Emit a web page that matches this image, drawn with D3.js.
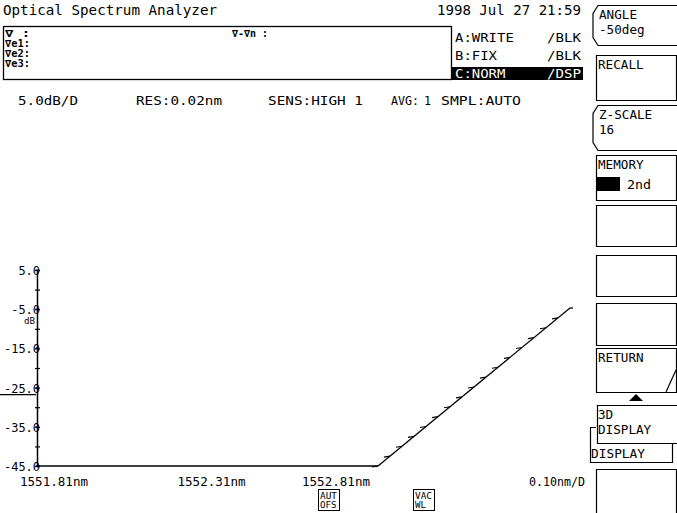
<!DOCTYPE html>
<html>
<head>
<meta charset="utf-8">
<script src="https://cdn.jsdelivr.net/npm/d3@7"></script>
<style>
	body { margin: 0; background: #fff; }
	svg { display: block; }
	text { font-family: "DejaVu Sans Mono", "Liberation Mono", monospace; fill: #000; }
</style>
</head>
<body>
<div id="osa"></div>
<script>
// values
var levelTicks = [5, -5, -15, -25, -35, -45];
var levelDomain = [-45, 5];
var waveValues = [1551.81, 1552.31, 1552.81];
var waveLabels = ["1551.81nm", "1552.31nm", "1552.81nm"];
var zScale = 16;
var markerRows = ["\u2207  :", "\u2207e1:", "\u2207e2:", "\u2207e3:"];
var traceModes = ["A:WRITE", "B:FIX", "C:NORM"];
var traceStates = ["/BLK", "/BLK", "/DSP"];
var conditions = ["5.0dB/D", "RES:0.02nm", "SENS:HIGH 1", "AVG:", "1", "SMPL:AUTO"];
var softkeys = ["ANGLE|-50deg", "RECALL", "Z-SCALE|16", "MEMORY|2nd", "", "", "", "RETURN", "3D|DISPLAY", ""];

var W = 677, H = 513;
var svg = d3.select("#osa").append("svg")
	.attr("width", W)
	.attr("height", H);

function label(x, y, s, size, len, anchor){
	var t = svg.append("text")
		.attr("x", x)
		.attr("y", y)
		.attr("text-anchor", anchor || "start")
		.style("font-size", size + "px")
		.text(s);
	if (len) {
		t.attr("textLength", len).attr("lengthAdjust", "spacingAndGlyphs");
	}
	return t;
}

// header
label(3, 15, "Optical Spectrum Analyzer", 14, 214);
label(581, 15, "1998 Jul 27 21:59", 14, 144, "end");

// marker box
svg.append("rect")
	.attr("x", 3.5).attr("y", 26.5)
	.attr("width", 448).attr("height", 53)
	.attr("fill", "none").attr("stroke", "#000").attr("stroke-width", 1.3);
markerRows.forEach(function(d, i){
	label(5, 37 + i * 10, d, 10, 25).style("font-weight", "bold");
});
label(232, 37, "\u2207-\u2207n :", 10, 36).style("font-weight", "bold");

// trace status
svg.append("rect")
	.attr("x", 452).attr("y", 67)
	.attr("width", 131).attr("height", 13)
	.attr("fill", "#000");
traceModes.forEach(function(d, i){
	var c = i == 2 ? "#fff" : "#000";
	label(455, 42 + i * 18, d, 13, d.length * 8.4).style("fill", c);
	label(581, 42 + i * 18, traceStates[i], 13, 34, "end").style("fill", c);
});

// condition line
var condX = [18, 136, 268, 391, 424, 441];
var condW = [60, 86, 95, 28, 7, 80];
conditions.forEach(function(d, i){
	label(condX[i], 105, d, 13, condW[i]);
});

// level axis
var y = d3.scaleLinear().domain(levelDomain).range([466, 270]);
var x = d3.scaleLinear().domain([waveValues[0], waveValues[2]]).range([37, 378]);

var yAxis = d3.axisRight(y)
	.tickValues(d3.range(levelDomain[0], levelDomain[1] + 1, 5))
	.tickSize(3)
	.tickFormat("");
svg.append("g")
	.attr("class", "axis")
	.attr("transform", "translate(" + x.range()[0] + ",0)")
	.call(yAxis)
	.call(function(g){
		g.select(".domain").attr("stroke-width", 1.5);
		g.selectAll(".tick line").attr("x1", -2).attr("stroke-width", 1.2);
	});

svg.selectAll(".level-label")
	.data(levelTicks).enter()
	.append("text")
		.attr("class", "level-label")
		.attr("x", 40)
		.attr("y", function(d){ return y(d) + 5; })
		.attr("text-anchor", "end")
		.attr("textLength", function(d){ return d.toFixed(1).length * 7.2; })
		.attr("lengthAdjust", "spacingAndGlyphs")
		.style("font-size", "13px")
		.text(function(d){ return d.toFixed(1); });
label(24, 324, "dB", 8, 11);
svg.append("line")
	.attr("x1", 0).attr("x2", 36)
	.attr("y1", y(-25) + 7).attr("y2", y(-25) + 7)
	.attr("stroke", "#000").attr("stroke-width", 1.2);

// wavelength axis
svg.append("line")
	.attr("x1", x.range()[0]).attr("x2", x.range()[1])
	.attr("y1", y(-45)).attr("y2", y(-45))
	.attr("stroke", "#000").attr("stroke-width", 1.6);
var wlX = [x(waveValues[0]) - 17, x(waveValues[1]) + 4, x(waveValues[2]) - 8];
var wlAnchor = ["start", "middle", "end"];
waveLabels.forEach(function(d, i){
	label(wlX[i], 486, d, 13, 68, wlAnchor[i]);
});
label(585, 486, "0.10nm/D", 13, 56, "end");

// z axis (3D depth)
var z0 = [x(waveValues[2]), y(-45)];
var z1 = [570, 308];
function zPoint(k){
	return [z0[0] + (z1[0] - z0[0]) * k / zScale, z0[1] + (z1[1] - z0[1]) * k / zScale];
}
svg.append("line")
	.attr("x1", z0[0]).attr("y1", z0[1])
	.attr("x2", z1[0]).attr("y2", z1[1])
	.attr("stroke", "#000").attr("stroke-width", 1.3);
svg.append("line")
	.attr("x1", z1[0]).attr("y1", z1[1])
	.attr("x2", z1[0] + 3).attr("y2", z1[1])
	.attr("stroke", "#000").attr("stroke-width", 1.3);
svg.selectAll(".z-tick")
	.data(d3.range(0, zScale)).enter()
	.append("line")
		.attr("class", "z-tick")
		.attr("x1", function(d){ return zPoint(d)[0] - 6; })
		.attr("y1", function(d){ return zPoint(d)[1] + 1; })
		.attr("x2", function(d){ return zPoint(d)[0]; })
		.attr("y2", function(d){ return zPoint(d)[1]; })
		.attr("stroke", "#000").attr("stroke-width", 1.1);

// small icons under the axis
function icon(x0, a, b){
	svg.append("rect")
		.attr("x", x0 + 0.5).attr("y", 489.5)
		.attr("width", 21).attr("height", 21)
		.attr("fill", "none").attr("stroke", "#000");
	label(x0 + 2, 499, a, 9, 17);
	label(x0 + 2, 508, b, 9, b.length * 5.5);
}
icon(318, "AUT", "OFS");
icon(413, "VAC", "WL");

// soft keys
var keyTop = [5, 55, 105, 155, 205, 255, 303, 348, 405, 469];
var keyBottom = [45, 100, 150, 200, 246, 296, 345, 392, 443, 513];
softkeys.forEach(function(d, i){
	var t = keyTop[i] + 0.5, b = keyBottom[i] + 0.5;
	var path;
	if (i == 0 || i == 2) {
		path = "M677," + t + "L598," + t + "L593," + (t + 8) + "L593," + (b - 8) + "L598," + b + "L677," + b;
	} else if (i == 8) {
		path = "M677," + t + "L597.5," + t + "L597.5," + b + "L677," + b;
	} else {
		path = "M676.5," + t + "L596.5," + t + "L596.5," + b + "L676.5," + b + "Z";
	}
	svg.append("path")
		.attr("d", path)
		.attr("fill", "none")
		.attr("stroke", "#000")
		.attr("stroke-width", 1.2);
	var parts = d ? d.split("|") : [];
	var tx = (i == 0 || i == 2) ? 599 : 598;
	parts.forEach(function(p, j){
		if (i == 3 && j == 1) return;
		label(tx, t + 13 + j * 15, p, 13, p.length * 7.6);
	});
});
// memory: highlighted block + 2nd
svg.append("rect").attr("x", 597).attr("y", 177).attr("width", 23).attr("height", 14).attr("fill", "#000");
label(627, 189, "2nd", 13, 24);
// return slash
svg.append("line")
	.attr("x1", 676).attr("y1", 370).attr("x2", 666).attr("y2", 392)
	.attr("stroke", "#000").attr("stroke-width", 1.2);
// up triangle
svg.append("path")
	.attr("d", "M629,401L643,401L636,394Z")
	.attr("fill", "#000");
// overlapping DISPLAY key
svg.append("path")
	.attr("d", "M596,427.5L590.5,427.5L590.5,462.5L672.5,462.5L672.5,443")
	.attr("fill", "none").attr("stroke", "#000").attr("stroke-width", 1.2);
label(591, 458, "DISPLAY", 13, 54);
</script>
</body>
</html>
